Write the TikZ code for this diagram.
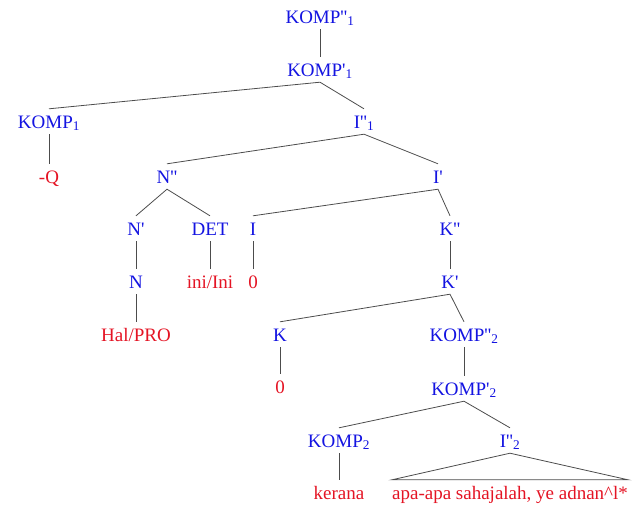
\documentclass[tikz,border=0pt]{standalone}
\usepackage{fontspec}
\setmainfont{Liberation Serif}
\definecolor{catblue}{RGB}{20,20,225}
\definecolor{wordred}{RGB}{228,20,36}
\newcommand{\prm}{\textquotesingle}
\tikzset{
    lbl/.style={anchor=base,inner xsep=1pt,inner ysep=3pt,text height=16pt,text depth=3pt,font=\fontsize{19}{22}\selectfont},
    cat/.style={lbl,text=catblue},
    word/.style={lbl,text=wordred},
    branch/.style={draw=black!70,line width=0.8pt}
}
\begin{document}
\begin{tikzpicture}[x=1pt,y=-1pt]
    \useasboundingbox (0,0) rectangle (640,523);
    \node[cat] (k2a) at (320,23) {KOMP\prm\prm\textsubscript{1}};
    \node[cat] (k1a) at (320,76) {KOMP\prm\textsubscript{1}};
    \node[cat] (k0a) at (49,128) {KOMP\textsubscript{1}};
    \node[cat] (i2a) at (364,128) {I\prm\prm\textsubscript{1}};
    \node[word] (q) at (49,183) {-Q};
    \node[cat] (n2) at (167,183) {N\prm\prm};
    \node[cat] (i1) at (438,183) {I\prm};
    \node[cat] (n1) at (136,235) {N\prm};
    \node[cat] (det) at (210,235) {DET};
    \node[cat] (i0) at (253,235) {I};
    \node[cat] (kk2) at (450,235) {K\prm\prm};
    \node[cat] (n0) at (136,288) {N};
    \node[word] (ini) at (210,288) {ini/Ini};
    \node[word] (zi) at (253,288) {0};
    \node[cat] (kk1) at (450,288) {K\prm};
    \node[word] (hal) at (136,341) {Hal/PRO};
    \node[cat] (kk0) at (280,341) {K};
    \node[cat] (k2b) at (464,341) {KOMP\prm\prm\textsubscript{2}};
    \node[word] (zk) at (280,393) {0};
    \node[cat] (k1b) at (464,395) {KOMP\prm\textsubscript{2}};
    \node[cat] (k0b) at (339,447) {KOMP\textsubscript{2}};
    \node[cat] (i2b) at (510,447) {I\prm\prm\textsubscript{2}};
    \node[word] (ker) at (339,499) {kerana};
    \node[word,inner xsep=0pt] (apa) at (510,499) {apa-apa sahajalah, ye adnan\^{}l*};
    \draw[branch] (k2a.south) -- (k1a.north);
    \draw[branch] (k0a.north) -- (k1a.south) -- (i2a.north);
    \draw[branch] (k0a.south) -- (q.north);
    \draw[branch] (n2.north) -- (i2a.south) -- (i1.north);
    \draw[branch] (n1.north) -- (n2.south) -- (det.north);
    \draw[branch] (i0.north) -- (i1.south) -- (kk2.north);
    \draw[branch] (n1.south) -- (n0.north);
    \draw[branch] (det.south) -- (ini.north);
    \draw[branch] (i0.south) -- (zi.north);
    \draw[branch] (kk2.south) -- (kk1.north);
    \draw[branch] (n0.south) -- (hal.north);
    \draw[branch] (kk0.north) -- (kk1.south) -- (k2b.north);
    \draw[branch] (kk0.south) -- (zk.north);
    \draw[branch] (k2b.south) -- (k1b.north);
    \draw[branch] (k0b.north) -- (k1b.south) -- (i2b.north);
    \draw[branch] (k0b.south) -- (ker.north);
    \draw[branch] (apa.north west) -- (i2b.south) -- (apa.north east) -- cycle;
\end{tikzpicture}
\end{document}
